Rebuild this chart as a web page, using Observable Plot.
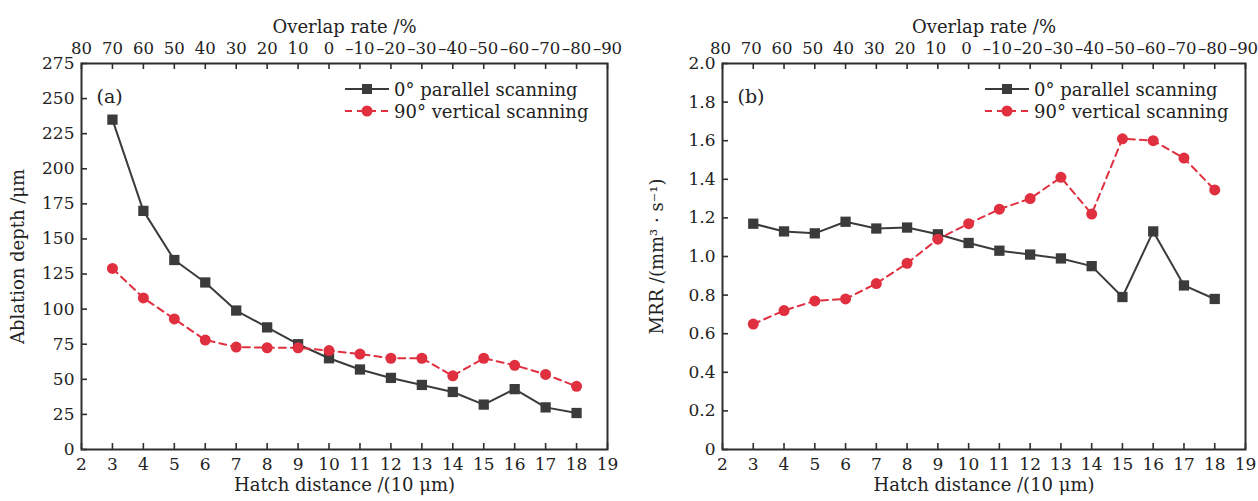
<!DOCTYPE html>
<html>
<head>
<meta charset="utf-8">
<script src="https://cdn.jsdelivr.net/npm/d3@7"></script>
<script src="https://cdn.jsdelivr.net/npm/@observablehq/plot@0.6"></script>
<style>
  body { margin: 0; background: #fff; width: 1258px; height: 501px; overflow: hidden; position: relative; font-family: "DejaVu Serif", serif; }
  .panel { position: absolute; top: 0; }
  .panel svg { overflow: visible; }
  .legend { position: absolute; font-size: 18px; color: #222; }
  .legend .row { position: absolute; white-space: nowrap; display: flex; align-items: center; height: 22px; }
  .legend svg { display: block; margin-right: 5px; }
</style>
</head>
<body>
<div id="pa" class="panel" style="left:0"></div>
<div id="pb" class="panel" style="left:629px"></div>
<script>
// ---- data ----
const hatch = [3, 4, 5, 6, 7, 8, 9, 10, 11, 12, 13, 14, 15, 16, 17, 18];
const depthParallel = [235, 170, 135, 119, 99, 87, 75, 65, 57, 51, 46, 41, 32, 43, 30, 26];
const depthVertical = [129, 108, 93, 78, 73, 72.5, 72.5, 70.5, 68, 65, 65, 52.5, 65, 60, 53.5, 45];
const mrrParallel = [1.17, 1.13, 1.12, 1.18, 1.145, 1.15, 1.115, 1.07, 1.03, 1.01, 0.99, 0.95, 0.79, 1.13, 0.85, 0.78];
const mrrVertical = [0.65, 0.72, 0.77, 0.78, 0.86, 0.965, 1.09, 1.17, 1.245, 1.30, 1.41, 1.22, 1.61, 1.60, 1.51, 1.345];
const xTicks = [2, 3, 4, 5, 6, 7, 8, 9, 10, 11, 12, 13, 14, 15, 16, 17, 18, 19];
const overlapLabels = ["80", "70", "60", "50", "40", "30", "20", "10", "0", "–10", "–20", "–30", "–40", "–50", "–60", "–70", "–80", "–90"];
const depthTicks = [0, 25, 50, 75, 100, 125, 150, 175, 200, 225, 250, 275];
const mrrTicks = [0, 0.2, 0.4, 0.6, 0.8, 1.0, 1.2, 1.4, 1.6, 1.8, 2.0];
const seriesNames = ["0° parallel scanning", "90° vertical scanning"];

const BLACK = "#3b3b3b", RED = "#e0303f", FRAME = "#2e2e2e";

function panel({parallel, vertical, yDomain, yTicks, yFormat, yLabel, tag, marginLeft, marginRight, yLabelDx, topDx}) {
  const rowsP = hatch.map((h, i) => ({h, v: parallel[i]}));
  const rowsV = hatch.map((h, i) => ({h, v: vertical[i]}));
  const xFmt = d => overlapLabels[xTicks.indexOf(d)];
  const top = yDomain[1];
  const tickLen = (yDomain[1] - yDomain[0]) * 6 / 386;
  return Plot.plot({
    width: 629, height: 501,
    marginLeft, marginRight, marginTop: 63, marginBottom: 52,
    style: {fontFamily: "DejaVu Serif", fontSize: "17px", color: "#222", background: "#fff", overflow: "visible"},
    x: {domain: [2, 19]},
    y: {domain: yDomain},
    marks: [
      Plot.axisX({anchor: "bottom", ticks: xTicks, tickSize: -6, tickPadding: 14, label: null, stroke: FRAME, strokeWidth: 1.6}),
      Plot.ruleX(xTicks, {x: d => d, y1: top, y2: top - tickLen, stroke: FRAME, strokeWidth: 1.6}),
      Plot.axisX({anchor: "top", ticks: xTicks, tickSize: 0, tickPadding: 10, tickFormat: xFmt, label: null, fontSize: 16.5, dx: topDx}),
      Plot.axisY({anchor: "left", ticks: yTicks, tickSize: -6, tickPadding: 13, tickFormat: yFormat, label: null, stroke: FRAME, strokeWidth: 1.6}),
      Plot.frame({stroke: FRAME, strokeWidth: 2}),
      Plot.line(rowsP, {x: "h", y: "v", stroke: BLACK, strokeWidth: 2}),
      Plot.line(rowsV, {x: "h", y: "v", stroke: RED, strokeWidth: 2, strokeDasharray: "7,5"}),
      Plot.dot(rowsP, {x: "h", y: "v", symbol: "square", r: 5.8, fill: BLACK, stroke: null}),
      Plot.dot(rowsV, {x: "h", y: "v", symbol: "circle", r: 5.5, fill: RED, stroke: null}),
      Plot.text([tag], {text: d => d, frameAnchor: "top-left", dx: 15, dy: 26, textAnchor: "start", fontSize: 19, fill: "#222"}),
      Plot.text(["Overlap rate /%"], {text: d => d, frameAnchor: "top", dy: -43, textAnchor: "middle", fontSize: 18, fill: "#222"}),
      Plot.text(["Hatch distance /(10 μm)"], {text: d => d, frameAnchor: "bottom", dy: 41, textAnchor: "middle", fontSize: 18, fill: "#222"}),
      Plot.text([yLabel], {text: d => d, frameAnchor: "left", dx: yLabelDx, rotate: -90, textAnchor: "middle", fontSize: 18, fill: "#222"})
    ]
  });
}

document.getElementById("pa").append(panel({
  parallel: depthParallel, vertical: depthVertical, yDomain: [0, 275], yTicks: depthTicks,
  yFormat: d => String(d), yLabel: "Ablation depth /μm", tag: "(a)", marginLeft: 81, marginRight: 22, yLabelDx: -63, topDx: 0
}));
document.getElementById("pb").append(panel({
  parallel: mrrParallel, vertical: mrrVertical, yDomain: [0, 2], yTicks: mrrTicks,
  yFormat: d => d === 0 ? "0" : d.toFixed(1), yLabel: "MRR /(mm³ · s⁻¹)", tag: "(b)", marginLeft: 93, marginRight: 13, yLabelDx: -65, topDx: -2
}));

// ---- legends ----
function legend(left) {
  const div = document.createElement("div");
  div.className = "legend";
  div.style.left = left + "px";
  div.style.top = "0px";
  const mk = (i, top) => {
    const row = document.createElement("div");
    row.className = "row";
    row.style.top = top + "px";
    const svg = d3.create("svg").attr("width", 44).attr("height", 14);
    if (i === 0) {
      svg.append("line").attr("x1", 0).attr("x2", 44).attr("y1", 7).attr("y2", 7).attr("stroke", BLACK).attr("stroke-width", 2);
      svg.append("rect").attr("x", 17).attr("y", 2).attr("width", 10).attr("height", 10).attr("fill", BLACK);
    } else {
      svg.append("line").attr("x1", 0).attr("x2", 44).attr("y1", 7).attr("y2", 7).attr("stroke", RED).attr("stroke-width", 2).attr("stroke-dasharray", "7,5");
      svg.append("circle").attr("cx", 22).attr("cy", 7).attr("r", 5.5).attr("fill", RED);
    }
    row.append(svg.node());
    const t = document.createElement("span");
    t.textContent = seriesNames[i];
    row.append(t);
    div.append(row);
  };
  mk(0, 78);
  mk(1, 100);
  document.body.append(div);
}
legend(345);
legend(985);
</script>
</body>
</html>
